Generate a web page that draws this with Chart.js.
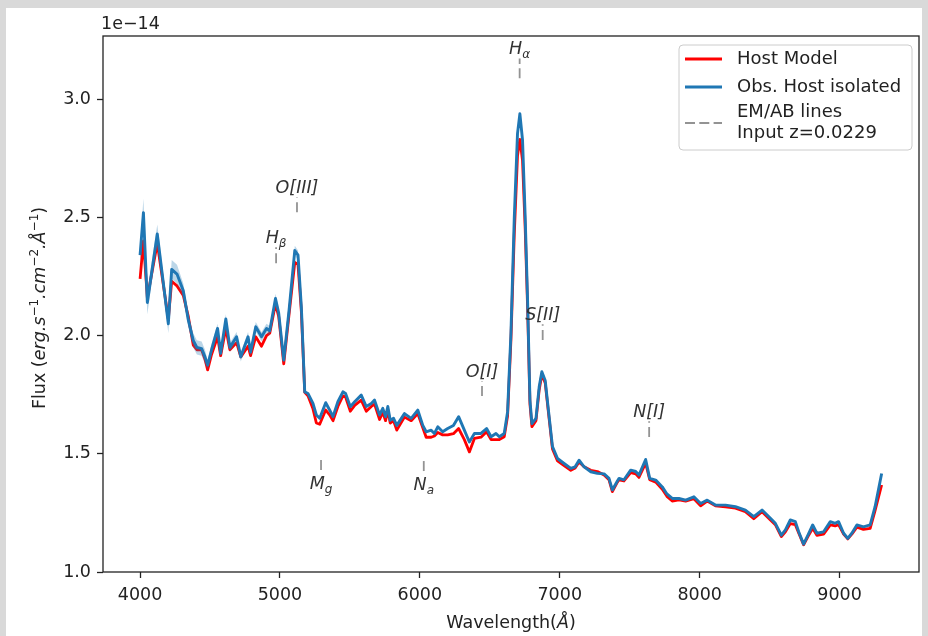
<!DOCTYPE html>
<html>
<head>
<meta charset="utf-8">
<script src="https://cdn.jsdelivr.net/npm/chart.js@4.4.1/dist/chart.umd.min.js"></script>
<style>
  html, body { margin: 0; padding: 0; background: #ffffff; }
  canvas { display: block; }
</style>
</head>
<body>
<canvas id="spectrum" width="928" height="636"></canvas>
<script>
// Wavelength grid (Angstrom) of the extracted host spectrum
const wavelength = [
  4000, 4024, 4052, 4123, 4202, 4226, 4264, 4309, 4345, 4380,
  4406, 4440, 4464, 4483, 4511, 4554, 4576, 4613, 4642, 4690,
  4720, 4772, 4790, 4827, 4868, 4904, 4927, 4968, 4991, 5027,
  5065, 5106, 5129, 5153, 5177, 5200, 5236, 5260, 5284, 5327,
  5355, 5379, 5414, 5450, 5469, 5503, 5534, 5581, 5617, 5653,
  5676, 5712, 5735, 5755, 5771, 5788, 5812, 5835, 5890, 5938,
  5985, 6021, 6045, 6081, 6104, 6128, 6163, 6199, 6240, 6277,
  6318, 6354, 6390, 6437, 6477, 6509, 6544, 6568, 6603, 6627,
  6651, 6675, 6698, 6715, 6734, 6753, 6770, 6787, 6801, 6830,
  6853, 6872, 6896, 6919, 6948, 6984, 7031, 7079, 7110, 7138,
  7174, 7222, 7269, 7317, 7352, 7376, 7412, 7424, 7459, 7507,
  7543, 7566, 7614, 7643, 7686, 7733, 7766, 7804, 7852, 7900,
  7959, 8007, 8054, 8113, 8185, 8256, 8327, 8387, 8446, 8506,
  8541, 8584, 8613, 8648, 8684, 8708, 8743, 8774, 8808, 8838,
  8886, 8934, 8969, 8993, 9029, 9059, 9088, 9124, 9171, 9219,
  9254, 9301
];

// Observed host flux, in units of 1e-14 erg/s/cm2/A
const obsHost = [
  2.34, 2.52, 2.14, 2.43, 2.05, 2.28, 2.26, 2.19, 2.065, 1.98,
  1.95, 1.945, 1.91, 1.875, 1.94, 2.03, 1.925, 2.07, 1.95, 1.995,
  1.91, 1.995, 1.93, 2.037, 1.995, 2.03, 2.02, 2.157, 2.095, 1.896,
  2.107, 2.36, 2.34, 2.12, 1.762, 1.755, 1.713, 1.664, 1.65, 1.716,
  1.685, 1.657, 1.72, 1.762, 1.755, 1.699, 1.72, 1.748, 1.70, 1.713,
  1.727, 1.664, 1.692, 1.657, 1.70, 1.642, 1.65, 1.62, 1.67, 1.65,
  1.685, 1.62, 1.593, 1.60, 1.586, 1.614, 1.593, 1.607, 1.62, 1.657,
  1.60, 1.55, 1.586, 1.586, 1.607, 1.572, 1.586, 1.572, 1.586, 1.677,
  2.01, 2.50, 2.854, 2.938, 2.826, 2.50, 2.15, 1.727, 1.628, 1.65,
  1.783, 1.847, 1.81, 1.685, 1.53, 1.48, 1.459, 1.438, 1.445, 1.473,
  1.445, 1.424, 1.417, 1.415, 1.396, 1.347, 1.385, 1.396, 1.39, 1.431,
  1.425, 1.41, 1.476, 1.396, 1.389, 1.36, 1.33, 1.311, 1.311, 1.304,
  1.318, 1.29, 1.304, 1.283, 1.283, 1.276, 1.262, 1.234, 1.262, 1.227,
  1.206, 1.156, 1.178, 1.22, 1.213, 1.17, 1.118, 1.156, 1.199, 1.164,
  1.17, 1.213, 1.206, 1.213, 1.164, 1.142, 1.164, 1.199, 1.191, 1.199,
  1.276, 1.417
];

// Fitted host model, same grid and units
const hostModel = [
  2.24, 2.40, 2.16, 2.39, 2.07, 2.23, 2.21, 2.17, 2.08, 1.96,
  1.94, 1.94, 1.90, 1.855, 1.92, 1.995, 1.915, 2.03, 1.94, 1.97,
  1.91, 1.955, 1.915, 1.995, 1.955, 2.00, 2.01, 2.135, 2.08, 1.88,
  2.09, 2.31, 2.30, 2.10, 1.76, 1.745, 1.69, 1.63, 1.625, 1.685,
  1.665, 1.64, 1.70, 1.745, 1.74, 1.68, 1.705, 1.727, 1.68, 1.70,
  1.71, 1.645, 1.675, 1.64, 1.685, 1.63, 1.64, 1.60, 1.655, 1.64,
  1.67, 1.61, 1.57, 1.57, 1.575, 1.59, 1.58, 1.58, 1.585, 1.607,
  1.56, 1.508, 1.565, 1.57, 1.593, 1.56, 1.56, 1.56, 1.572, 1.66,
  1.98, 2.43, 2.76, 2.83, 2.74, 2.45, 2.12, 1.71, 1.615, 1.64,
  1.77, 1.835, 1.80, 1.675, 1.52, 1.47, 1.45, 1.43, 1.44, 1.465,
  1.445, 1.43, 1.425, 1.41, 1.39, 1.34, 1.38, 1.39, 1.385, 1.42,
  1.415, 1.40, 1.46, 1.39, 1.38, 1.35, 1.32, 1.30, 1.305, 1.30,
  1.31, 1.28, 1.30, 1.28, 1.275, 1.27, 1.255, 1.225, 1.255, 1.22,
  1.20, 1.15, 1.17, 1.205, 1.20, 1.165, 1.115, 1.15, 1.185, 1.155,
  1.16, 1.199, 1.195, 1.20, 1.16, 1.14, 1.16, 1.19, 1.18, 1.185,
  1.26, 1.368
];

// 1-sigma uncertainty of the observed flux over the blue end of the spectrum
const obsError = [
  0.04, 0.06, 0.05, 0.04, 0.04, 0.04, 0.04, 0.03, 0.03, 0.03,
  0.03, 0.03, 0.03, 0.02, 0.025, 0.02, 0.02, 0.02, 0.02, 0.02,
  0.02, 0.02, 0.02, 0.02, 0.02, 0.02, 0.02, 0.02, 0.02, 0.015,
  0.015, 0.02, 0.02, 0.015
];

// Emission / absorption lines (rest frame) and their marker extents in flux units
const redshift = 0.0229;
const lineRest   = [4861, 5007, 5175, 5893, 6300, 6563, 6724, 7468];
const lineName   = ['H', 'O[III]', 'M', 'N', 'O[I]', 'H', 'S[II]', 'N[I]'];
const lineSub    = ['\u03b2', '', 'g', 'a', '', '\u03b1', '', ''];
const lineKind   = ['em', 'em', 'ab', 'ab', 'em', 'em', 'em', 'em'];
const markerLow  = [2.306, 2.522, 1.431, 1.427, 1.744, 3.088, 1.981, 1.571];
const markerHigh = [2.374, 2.585, 1.490, 1.482, 1.807, 3.172, 2.048, 1.638];

// Axis ticks and limits
const xTicks = [4000, 5000, 6000, 7000, 8000, 9000];
const yTicks = [1.0, 1.5, 2.0, 2.5, 3.0];
const xLimits = [3735, 9568];
const yLimits = [1.0, 3.267];

const FONT = '"DejaVu Sans", "Liberation Sans", sans-serif';
const TEXT = '#222222';
const C_OBS = '#1f77b4';
const C_MODEL = '#ff0000';
const C_LINES = 'rgba(128,128,128,0.85)';
const FS = 17.5;

const pts = (xs, ys) => xs.map((x, i) => ({ x: x, y: ys[i] }));

const bandUpper = obsError.map((e, i) => ({ x: wavelength[i], y: obsHost[i] + e }));
const bandLower = obsError.map((e, i) => ({ x: wavelength[i], y: obsHost[i] - e }));

const markerSets = lineRest.map((w, i) => ({
  data: [{ x: w * (1 + redshift), y: markerLow[i] }, { x: w * (1 + redshift), y: markerHigh[i] }],
  borderColor: C_LINES,
  borderWidth: 1.8,
  borderDash: [10, 4.3],
  pointRadius: 0,
  fill: false,
  order: 3
}));

// Draws a run of text pieces (font, vertical shift) centred on cx
function drawRich(ctx, pieces, cx, baseline) {
  let total = 0;
  pieces.forEach(p => { ctx.font = p.font; p.w = ctx.measureText(p.t).width; total += p.w; });
  let x = cx - total / 2;
  ctx.textAlign = 'left';
  ctx.textBaseline = 'alphabetic';
  pieces.forEach(p => {
    ctx.font = p.font;
    ctx.fillText(p.t, x, baseline + (p.dy || 0));
    x += p.w;
  });
}

const decorations = {
  id: 'decorations',
  beforeDraw(chart) {
    const ctx = chart.ctx;
    ctx.save();
    ctx.fillStyle = '#d9d9d9';
    ctx.fillRect(0, 0, chart.width, chart.height);
    ctx.fillStyle = '#ffffff';
    ctx.fillRect(6, 8, 916, chart.height - 8);
    ctx.restore();
  },
  afterDatasetsDraw(chart) {
    const ctx = chart.ctx;
    const xs = chart.scales.x, ys = chart.scales.y;
    ctx.save();
    // line labels
    ctx.fillStyle = '#333333';
    lineRest.forEach((w, i) => {
      const px = xs.getPixelForValue(w * (1 + redshift));
      const base = lineKind[i] === 'em'
        ? ys.getPixelForValue(markerHigh[i]) - 4
        : ys.getPixelForValue(markerLow[i]) + 19;
      const pieces = [{ t: lineName[i], font: 'italic ' + FS + 'px ' + FONT }];
      if (lineSub[i]) pieces.push({ t: lineSub[i], font: 'italic 12px ' + FONT, dy: 4 });
      drawRich(ctx, pieces, px, base);
    });
    ctx.restore();
  },
  afterDraw(chart) {
    const ctx = chart.ctx;
    const a = chart.chartArea;
    ctx.save();
    // axes frame
    ctx.strokeStyle = '#222222';
    ctx.lineWidth = 1.3;
    ctx.strokeRect(a.left, a.top, a.right - a.left, a.bottom - a.top);

    // scale offset text
    ctx.fillStyle = TEXT;
    ctx.font = FS + 'px ' + FONT;
    ctx.textAlign = 'left';
    ctx.textBaseline = 'alphabetic';
    ctx.fillText('1e\u221214', a.left - 2, 29);

    // x axis title
    ctx.fillStyle = TEXT;
    drawRich(ctx, [
      { t: 'Wavelength(', font: FS + 'px ' + FONT },
      { t: '\u00c5', font: 'italic ' + FS + 'px ' + FONT },
      { t: ')', font: FS + 'px ' + FONT }
    ], (a.left + a.right) / 2, 628);

    // y axis title
    ctx.save();
    ctx.translate(39, (a.top + a.bottom) / 2 + 4);
    ctx.rotate(-Math.PI / 2);
    const sup = '12px ' + FONT;
    const it = 'italic ' + FS + 'px ' + FONT;
    drawRich(ctx, [
      { t: 'Flux (', font: FS + 'px ' + FONT },
      { t: 'erg.s', font: it },
      { t: '\u22121', font: sup, dy: -7 },
      { t: '.cm', font: it },
      { t: '\u22122', font: sup, dy: -7 },
      { t: '.\u00c5', font: it },
      { t: '\u22121', font: sup, dy: -7 },
      { t: ')', font: FS + 'px ' + FONT }
    ], 0, 6);
    ctx.restore();

    // legend
    const bx = 679, by = 45, bw = 233, bh = 105, r = 4;
    ctx.beginPath();
    ctx.moveTo(bx + r, by);
    ctx.arcTo(bx + bw, by, bx + bw, by + bh, r);
    ctx.arcTo(bx + bw, by + bh, bx, by + bh, r);
    ctx.arcTo(bx, by + bh, bx, by, r);
    ctx.arcTo(bx, by, bx + bw, by, r);
    ctx.closePath();
    ctx.fillStyle = 'rgba(255,255,255,0.8)';
    ctx.fill();
    ctx.strokeStyle = '#cccccc';
    ctx.lineWidth = 1;
    ctx.stroke();

    const entries = [
      { lines: ['Host Model'], color: C_MODEL, dash: [], width: 2.8, y: 59 },
      { lines: ['Obs. Host isolated'], color: C_OBS, dash: [], width: 2.8, y: 87 },
      { lines: ['EM/AB lines', 'Input z=' + redshift], color: C_LINES, dash: [10, 4.3], width: 1.8, y: 123 }
    ];
    entries.forEach(e => {
      ctx.beginPath();
      ctx.setLineDash(e.dash);
      ctx.strokeStyle = e.color;
      ctx.lineWidth = e.width;
      ctx.moveTo(685, e.y);
      ctx.lineTo(722, e.y);
      ctx.stroke();
      ctx.setLineDash([]);
      ctx.fillStyle = TEXT;
      ctx.font = '18px ' + FONT;
      ctx.textAlign = 'left';
      ctx.textBaseline = 'middle';
      const n = e.lines.length;
      e.lines.forEach((t, k) => ctx.fillText(t, 737, e.y + (k - (n - 1) / 2) * 21));
    });
    ctx.restore();
  }
};

new Chart(document.getElementById('spectrum'), {
  type: 'line',
  data: {
    datasets: [
      {
        label: 'Obs. Host isolated',
        data: pts(wavelength, obsHost),
        borderColor: C_OBS,
        borderWidth: 2.9,
        pointRadius: 0,
        fill: false,
        order: 0
      },
      {
        label: 'band upper',
        data: bandUpper,
        borderWidth: 0,
        borderColor: 'rgba(0,0,0,0)',
        pointRadius: 0,
        fill: '+1',
        backgroundColor: 'rgba(31,119,180,0.3)',
        order: 1
      },
      {
        label: 'band lower',
        data: bandLower,
        borderWidth: 0,
        borderColor: 'rgba(0,0,0,0)',
        pointRadius: 0,
        fill: false,
        order: 1
      },
      {
        label: 'Host Model',
        data: pts(wavelength, hostModel),
        borderColor: C_MODEL,
        borderWidth: 2.8,
        pointRadius: 0,
        fill: false,
        order: 2
      }
    ].concat(markerSets)
  },
  options: {
    responsive: false,
    devicePixelRatio: 1,
    animation: false,
    events: [],
    layout: { padding: { left: 0, top: 36, right: 9, bottom: 0 } },
    elements: { line: { tension: 0, borderJoinStyle: 'round', borderCapStyle: 'butt' } },
    plugins: { legend: { display: false }, tooltip: { enabled: false } },
    scales: {
      x: {
        type: 'linear',
        min: xLimits[0],
        max: xLimits[1],
        afterBuildTicks: s => { s.ticks = xTicks.map(v => ({ value: v })); },
        afterFit: s => { s.height = 64; },
        ticks: {
          font: { family: FONT, size: FS },
          color: TEXT,
          padding: 7,
          maxRotation: 0,
          callback: v => String(v)
        },
        grid: { display: true, drawOnChartArea: false, drawTicks: true, tickLength: 6, tickColor: '#222222', tickWidth: 1.3 },
        border: { display: false }
      },
      y: {
        type: 'linear',
        min: yLimits[0],
        max: yLimits[1],
        afterBuildTicks: s => { s.ticks = yTicks.map(v => ({ value: v })); },
        afterFit: s => { s.width = 103; },
        ticks: {
          font: { family: FONT, size: FS },
          color: TEXT,
          padding: 6,
          callback: v => Number(v).toFixed(1)
        },
        grid: { display: true, drawOnChartArea: false, drawTicks: true, tickLength: 6, tickColor: '#222222', tickWidth: 1.3 },
        border: { display: false }
      }
    }
  },
  plugins: [decorations]
});
</script>
</body>
</html>
